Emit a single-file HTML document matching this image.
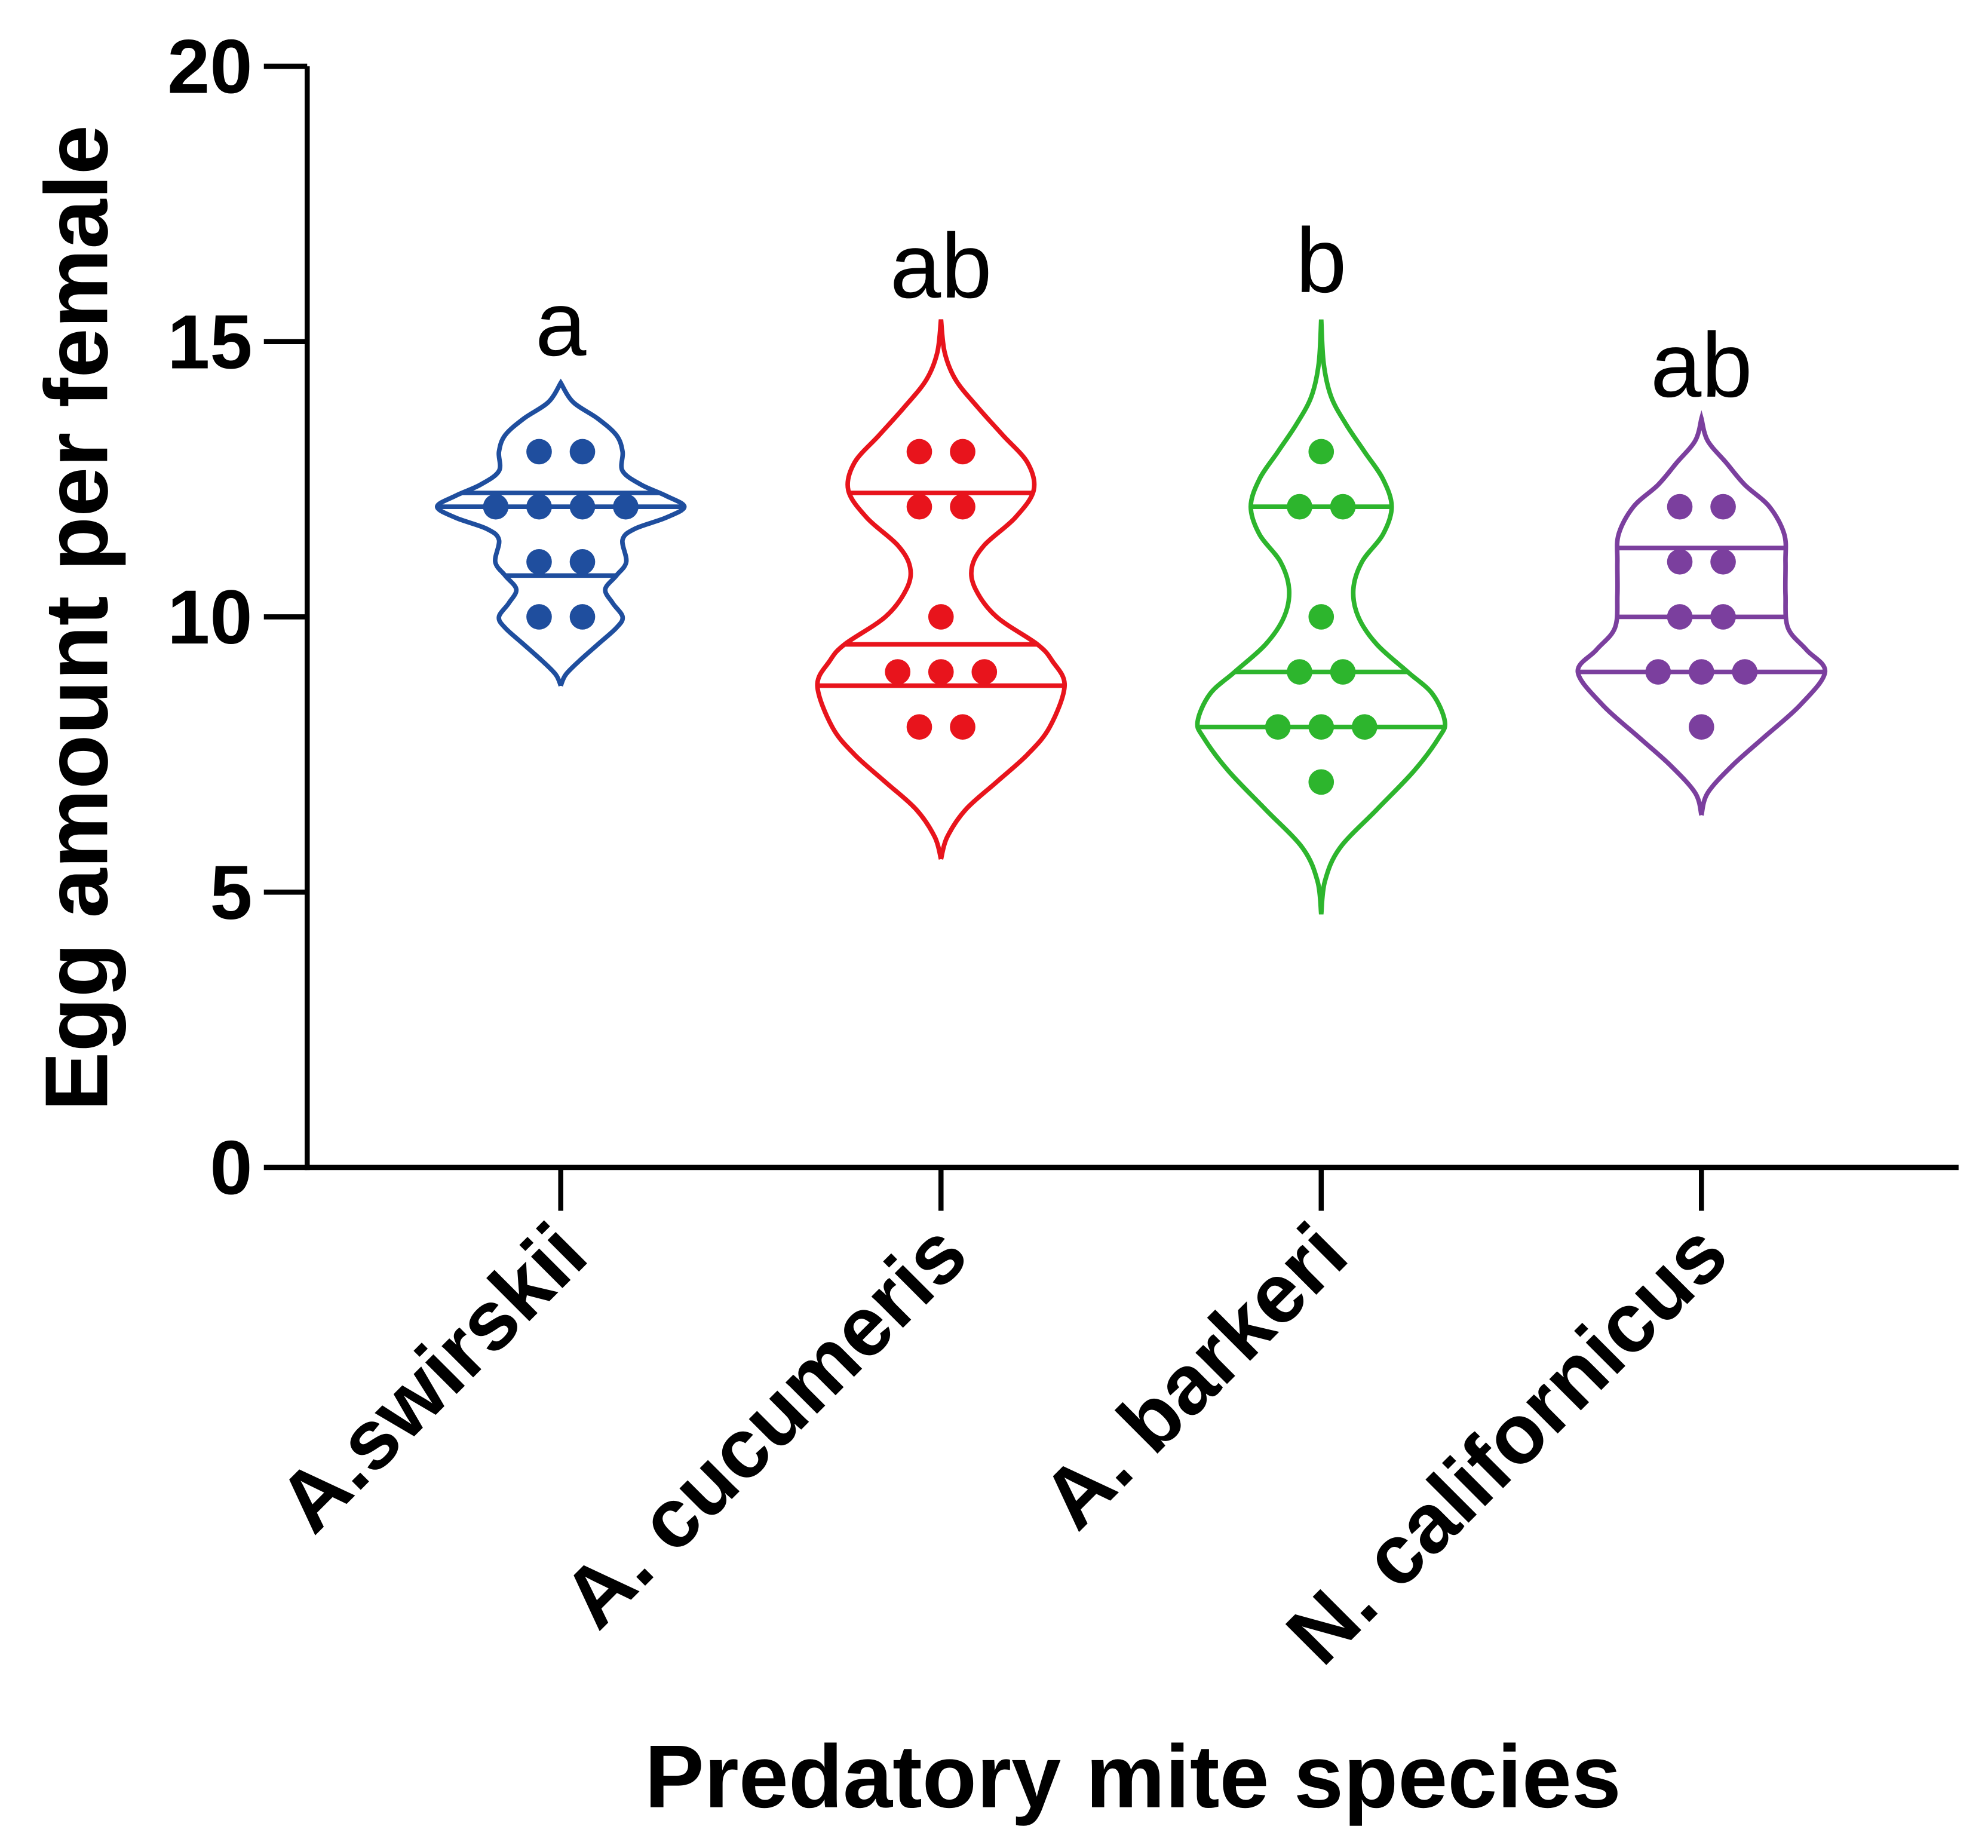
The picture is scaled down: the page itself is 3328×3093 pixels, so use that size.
<!DOCTYPE html>
<html><head><meta charset="utf-8"><style>
html,body{margin:0;padding:0;background:#fff;}
svg{display:block;}
text{font-family:"Liberation Sans",Arial,sans-serif;}
</style></head><body>
<svg id="chart" width="3328" height="3093" viewBox="0 0 1560 1450" xmlns="http://www.w3.org/2000/svg">
<rect width="1560" height="1450" fill="#fff"/>
<g id="plot"></g>
</svg>
<script>
const categories = ["A.swirskii","A. cucumeris","A. barkeri","N. californicus"];
const colors = ["#1f4e9e","#e8141c","#2db52d","#7b3f9e"];
const letters = ["a","ab","b","ab"];
const letterY = [14.75, 15.8, 15.9, 14.0];
const yTicks = [0,5,10,15,20];
const pts0 = [13,13,12,12,12,12,11,11,10,10];
const pts1 = [13,13,12,12,10,9,9,9,8,8];
const pts2 = [13,12,12,10,9,9,8,8,8,7];
const pts3 = [12,12,11,11,10,10,9,9,9,8];
const lines0 = [12.25,12,10.75];
const lines1 = [12.25,9.5,8.75];
const lines2 = [12,9,8];
const lines3 = [11.25,10,9];
const dens0 = [[8.75,0],[8.95,0.04],[9.2,0.15],[9.5,0.3],[9.8,0.45],[10,0.5],[10.25,0.42],[10.5,0.36],[10.75,0.45],[11,0.53],[11.4,0.5],[11.6,0.6],[11.8,0.85],[12,1.0],[12.2,0.85],[12.4,0.65],[12.65,0.5],[13,0.5],[13.3,0.45],[13.6,0.3],[13.9,0.1],[14.25,0]];
const dens1 = [[5.6,0],[6.0,0.05],[6.5,0.2],[7.0,0.45],[7.5,0.7],[8.0,0.88],[8.75,1.0],[9.2,0.9],[9.5,0.78],[10.0,0.45],[10.5,0.28],[10.9,0.25],[11.3,0.35],[11.8,0.6],[12.3,0.75],[12.8,0.7],[13.3,0.5],[13.8,0.3],[14.3,0.12],[14.8,0.03],[15.4,0]];
const dens2 = [[4.6,0],[5.2,0.03],[5.8,0.15],[6.5,0.45],[7.2,0.75],[7.8,0.95],[8.1,1.0],[8.6,0.9],[9.0,0.7],[9.5,0.45],[10.0,0.3],[10.5,0.26],[11.0,0.33],[11.5,0.5],[12.0,0.57],[12.5,0.5],[13.0,0.35],[13.5,0.2],[14.0,0.08],[14.6,0.02],[15.4,0]];
const dens3 = [[6.4,0],[6.8,0.05],[7.3,0.25],[7.8,0.5],[8.4,0.8],[9.0,1.0],[9.4,0.85],[9.8,0.7],[10.4,0.68],[11.0,0.68],[11.5,0.67],[12.0,0.55],[12.4,0.35],[12.8,0.2],[13.2,0.05],[13.6,0]];
const allPts=[pts0,pts1,pts2,pts3], allLines=[lines0,lines1,lines2,lines3], allDens=[dens0,dens1,dens2,dens3];

const NS="http://www.w3.org/2000/svg";
const g=document.getElementById('plot');
const x0=241,x1=1537,yTop=52,yBot=916,yMax=20;
const Y=v=>yBot-(v/yMax)*(yBot-yTop);
const X=i=>440+i*298.4;
const HW=97, DX=34, R=10, SW=3.6;
function el(t,a,p){const e=document.createElementNS(NS,t);for(const k in a)e.setAttribute(k,a[k]);(p||g).appendChild(e);return e;}
function interp(d,v){for(let i=0;i<d.length-1;i++){if(v>=d[i][0]&&v<=d[i+1][0]){const t=(v-d[i][0])/(d[i+1][0]-d[i][0]);return d[i][1]+t*(d[i+1][1]-d[i][1]);}}return 0;}
function smooth(p){let s=`M${p[0][0]},${p[0][1]}`;for(let i=0;i<p.length-1;i++){const a=p[Math.max(i-1,0)],b=p[i],c=p[i+1],d=p[Math.min(i+2,p.length-1)];s+=` C${b[0]+(c[0]-a[0])/6},${b[1]+(c[1]-a[1])/6} ${c[0]-(d[0]-b[0])/6},${c[1]-(d[1]-b[1])/6} ${c[0]},${c[1]}`;}return s;}

let a=el('line',{x1:x0,y1:yTop,x2:x0,y2:yBot+2,stroke:'#000','stroke-width':4});


a=el('line',{x1:x0-2,y1:yBot,x2:x1,y2:yBot,stroke:'#000','stroke-width':4});


yTicks.forEach(v=>{
 const t=el('line',{x1:207,y1:Y(v),x2:x0,y2:Y(v),stroke:'#000','stroke-width':4});
 
 
 const l=el('text',{x:198,y:Y(v)+21,'text-anchor':'end','font-size':60,'font-weight':'bold'});
 l.textContent=v;
 
 
});
categories.forEach((c,i)=>{
 const x=X(i);
 const t=el('line',{x1:x,y1:yBot,x2:x,y2:950,stroke:'#000','stroke-width':4});
 
 
 const l=el('text',{x:0,y:0,'text-anchor':'end','font-size':66,'font-weight':'bold',transform:`translate(${x+24},${988}) rotate(-45)`});
 l.textContent=c;
 
 
 const col=colors[i], d=allDens[i];
 const grp=el('g',{});
 
 
 const right=d.map(p=>[x+p[1]*HW,Y(p[0])]);
 const left=d.slice().reverse().map(p=>[x-p[1]*HW,Y(p[0])]);
 const pr=el('path',{d:smooth(right)+' '+smooth(left).replace('M','L'),fill:'none',stroke:col,'stroke-width':SW},grp);
 
 
 allLines[i].forEach(v=>{
  const w=interp(d,v)*HW;
  const ln=el('line',{x1:x-w,y1:Y(v),x2:x+w,y2:Y(v),stroke:col,'stroke-width':SW},grp);
  
  
 });
 const counts={};allPts[i].forEach(v=>counts[v]=(counts[v]||0)+1);
 const seen={};
 allPts[i].forEach(v=>{
  const n=counts[v],k=(seen[v]=(seen[v]||0)+1)-1;
  const cx=x+(k-(n-1)/2)*DX;
  const dot=el('circle',{cx:cx,cy:Y(v),r:R,fill:col},grp);
  
  
 });
 const lt=el('text',{x:x,y:Y(letterY[i]),'text-anchor':'middle','font-size':72});
 lt.textContent=letters[i];
 
 
});
let yt=el('text',{x:0,y:0,'text-anchor':'middle','font-size':70,'font-weight':'bold',transform:'translate(84,485) rotate(-90)'});
yt.textContent='Egg amount per female';


let xt=el('text',{x:889,y:1418,'text-anchor':'middle','font-size':70,'font-weight':'bold'});
xt.textContent='Predatory mite species';


</script>
</body></html>
